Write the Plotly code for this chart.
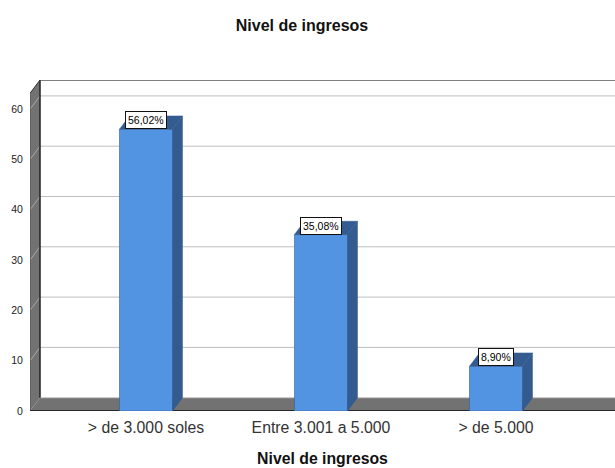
import plotly.graph_objects as go

title = "Nivel de ingresos"
categories = ["> de 3.000 soles", "Entre 3.001 a 5.000", "> de 5.000"]
values = [56.02, 35.08, 8.90]
labels = ["56,02%", "35,08%", "8,90%"]
y_ticks = [0, 10, 20, 30, 40, 50, 60]

W, H = 615, 468
L, R, T, B = 30, 0, 80, 57
PX_CAT = 175.0
PX_UNIT = 5.03
x0 = -(146 - L) / PX_CAT
x1 = (W - 146) / PX_CAT
y1 = (H - B - T) / PX_UNIT
DX = 10 / PX_CAT      # depth in category units
DY = 13.3 / PX_UNIT   # depth in value units
HALF = 26.5 / PX_CAT
XR = x1 + 0.1

GREY = "#727272"
FRONT = "#5294E2"
DARK = "#345B90"

fig = go.Figure()
shapes = []


def poly(xs, ys, fill, line="rgba(0,0,0,0)", w=0, layer="below"):
    path = "M" + " L".join(f"{a},{b}" for a, b in zip(xs, ys)) + " Z"
    return dict(type="path", xref="x", yref="y", path=path, fillcolor=fill,
                line=dict(color=line, width=w), layer=layer)


def seg(xa, ya, xb, yb, color, w=1):
    return dict(type="line", xref="x", yref="y", x0=xa, y0=ya, x1=xb, y1=yb,
                line=dict(color=color, width=w), layer="below")


top_front = y1 - DY
# left wall and floor
shapes.append(poly([x0, x0, x0 + DX, x0 + DX], [0, top_front, y1, DY], GREY))
shapes.append(poly([x0, x0 + DX, XR + DX, XR], [0, DY, DY, 0], GREY))
# gridlines
for t in y_ticks[1:]:
    shapes.append(seg(x0 + DX, t + DY, XR, t + DY, "#BEBEBE"))
    shapes.append(seg(x0, t, x0 + DX, t + DY, "#A8A8A8"))
shapes.append(seg(x0 + DX, DY, XR, DY, "#C8C8C8"))
# frame
shapes.append(seg(x0 + DX, DY, x0 + DX, y1, "#222222", 1.5))
shapes.append(seg(x0 + DX, y1, XR, y1, "#555555", 1.5))
shapes.append(seg(x0, top_front, x0 + DX, y1, "#333333", 1))
shapes.append(seg(x0, 0, x0, top_front, "#555555", 1))
shapes.append(seg(x0, 0, XR - 0.02, 0, "#111111", 1.5))
shapes.append(seg(XR - 0.02, 0, XR - 0.02 + DX, DY, "#111111", 1))

fig.add_trace(go.Bar(x=list(range(len(values))), y=values, width=2 * HALF,
                     marker=dict(color=FRONT, line=dict(color="#2F5F9E", width=0.6)),
                     hoverinfo="skip", showlegend=False))

for i, v in enumerate(values):
    # side face
    fig.add_trace(go.Scatter(
        x=[i + HALF, i + HALF + DX, i + HALF + DX, i + HALF, i + HALF],
        y=[0, DY, v + DY, v, 0], mode="lines", fill="toself", fillcolor=DARK,
        line=dict(color=DARK, width=0.5), hoverinfo="skip", showlegend=False))
    # top face
    fig.add_trace(go.Scatter(
        x=[i - HALF, i + HALF, i + HALF + DX, i - HALF + DX, i - HALF],
        y=[v, v, v + DY, v + DY, v], mode="lines", fill="toself", fillcolor=DARK,
        line=dict(color=DARK, width=0.5), hoverinfo="skip", showlegend=False))

annotations = [
    dict(x=i, y=v, xref="x", yref="y", text=labels[i], showarrow=False,
         yanchor="bottom", xanchor="center", yshift=0,
         font=dict(family="Liberation Sans, Arial, sans-serif", size=10.5, color="#000000"),
         bgcolor="#FFFFFF", bordercolor="#111111", borderwidth=1, borderpad=2)
    for i, v in enumerate(values)
]

fig.update_layout(
    width=W, height=H, autosize=False,
    margin=dict(l=L, r=R, t=T, b=B, pad=0),
    paper_bgcolor="#FFFFFF", plot_bgcolor="#FFFFFF",
    font=dict(family="Liberation Sans, Arial, sans-serif", color="#222222"),
    title=dict(text=f"<b>{title}</b>", x=302 / W, xanchor="center", y=1 - 25 / H,
               yanchor="middle", font=dict(size=16, color="#111111")),
    shapes=shapes, annotations=annotations, barmode="overlay",
    xaxis=dict(range=[x0, x1], tickmode="array", tickvals=list(range(len(categories))),
               ticktext=categories, showgrid=False, zeroline=False, showline=False,
               ticks="", ticklabelstandoff=5, tickfont=dict(size=15.8, color="#333333"),
               title=dict(text=f"<b>{title}</b>", standoff=18,
                          font=dict(size=15.8, color="#111111"))),
    yaxis=dict(range=[0, y1], tickmode="array", tickvals=y_ticks, showgrid=False,
               zeroline=False, showline=False, ticks="outside", ticklen=4,
               tickcolor="rgba(0,0,0,0)", tickfont=dict(size=10.5, color="#222222")),
)

fig.write_html("out.html", config={"displayModeBar": False},
               post_script="document.body.style.margin='0';")
